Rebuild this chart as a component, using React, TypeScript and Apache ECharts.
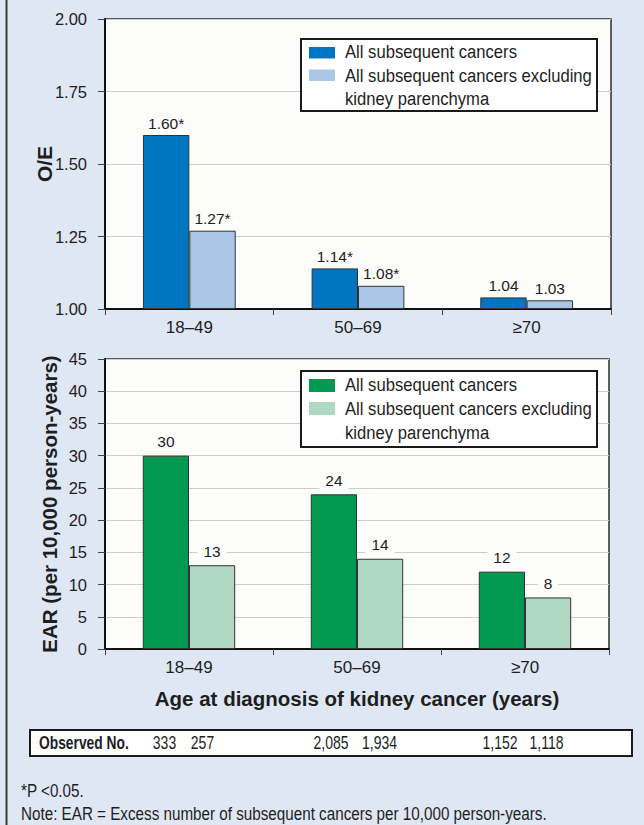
import React, { useEffect, useRef } from 'react';
import * as echarts from 'echarts';

// ---------- data ----------
const categories = ['18–49', '50–69', '≥70'];
const seriesNames = ['All subsequent cancers', 'All subsequent cancers excluding kidney parenchyma'];
const legendLines = ['All subsequent cancers', 'All subsequent cancers excluding', 'kidney parenchyma'];

const oeAll = [1.6, 1.14, 1.04];
const oeExcl = [1.27, 1.08, 1.03];
const oeAllSig = [true, true, false];
const oeExclSig = [true, true, false];

const earAll = [30, 24, 12];
const earExcl = [13, 14, 8];

const oeMin = 1;
const oeMax = 2;
const oeInterval = 0.25;
const earMin = 0;
const earMax = 45;
const earInterval = 5;

const oeAxisName = 'O/E';
const earAxisName = 'EAR (per 10,000 person-years)';
const xAxisName = 'Age at diagnosis of kidney cancer (years)';

const observedTitle = 'Observed No.';
const observedNo = ['333', '257', '2,085', '1,934', '1,152', '1,118'];
const footnotes = ['*P <0.05.', 'Note: EAR = Excess number of subsequent cancers per 10,000 person-years.'];

// ---------- layout / style ----------
const W = 644;
const H = 825;
const FONT = "'Liberation Sans', Arial, Helvetica, sans-serif";
const BOLD_FONT = "'Liberation Sans', Arial, Helvetica, sans-serif";
const BG = '#dfe7f4';
const PLOT_BG = '#fcfcfa';
const INK = '#1e1e1e';
const C_BLUE = '#0076c0';
const C_LBLUE = '#abc7e7';
const C_GREEN = '#00994f';
const C_LGREEN = '#aed8c1';
const observedX = [164.5, 202.5, 331, 379.5, 500, 546.5];

export default function App() {
  const ref = useRef<HTMLDivElement>(null);

  useEffect(() => {
    if (!ref.current) return;
    const chart = echarts.init(ref.current, undefined, { renderer: 'svg', width: W, height: H });

    const axisLine = { show: true, onZero: false, lineStyle: { color: '#111', width: 2 } };
    const yTick = { show: true, length: 7, lineStyle: { color: '#444', width: 1 } };
    const xTick = { show: true, length: 6, lineStyle: { color: '#444', width: 1 } };
    const splitLine = { show: true, lineStyle: { color: '#cdcdcd', width: 1 } };
    const nameStyle = { fontFamily: BOLD_FONT, fontWeight: 'bold' as const, fontSize: 20.5, color: INK };

    const barBorder = { borderColor: '#333', borderWidth: 1 };
    const topLabel = (sig: boolean[]) => ({
      show: true,
      position: 'top' as const,
      distance: 4,
      fontFamily: FONT,
      fontSize: 15.5,
      color: INK,
      formatter: (p: any) => Number(p.value).toFixed(2) + (sig[p.dataIndex] ? '*' : ''),
    });
    const bottomLabel = {
      show: true,
      position: 'top' as const,
      distance: 5,
      fontFamily: FONT,
      fontSize: 15.5,
      color: INK,
      backgroundColor: PLOT_BG,
      padding: [1, 6, 1, 6],
      formatter: (p: any) => String(p.value),
    };

    const legendBlock = (y0: number, c1: string, c2: string, boxH: number, lineYs: number[], markYs: number[], markH: number) => [
      {
        type: 'rect', z: 100,
        shape: { x: 301, y: y0, width: 296, height: boxH },
        style: { fill: '#ffffff', stroke: '#1a1a1a', lineWidth: 2 },
      },
      { type: 'rect', z: 101, shape: { x: 309, y: markYs[0], width: 26, height: markH }, style: { fill: c1 } },
      { type: 'rect', z: 101, shape: { x: 309, y: markYs[1], width: 26, height: markH }, style: { fill: c2 } },
      ...legendLines.map((t, i) => ({
        type: 'text', z: 101,
        x: 345, y: lineYs[i], scaleX: 0.9,
        style: { text: t, fontFamily: FONT, fontSize: 18.5, fill: INK, align: 'left', verticalAlign: 'middle' },
      })),
    ];

    const option: any = {
      animation: false,
      backgroundColor: BG,
      grid: [
        { left: 105, top: 19, width: 506, height: 290, show: true, backgroundColor: PLOT_BG, borderColor: '#2b2b2b', borderWidth: 1.5, containLabel: false },
        { left: 105, top: 359, width: 504, height: 290, show: true, backgroundColor: PLOT_BG, borderColor: '#2b2b2b', borderWidth: 1.5, containLabel: false },
      ],
      xAxis: [
        {
          type: 'category', gridIndex: 0, data: categories,
          axisLine, axisTick: xTick, splitLine: { show: false },
          axisLabel: { fontFamily: FONT, fontSize: 17, color: INK, margin: 10 },
        },
        {
          type: 'category', gridIndex: 1, data: categories,
          axisLine, axisTick: xTick, splitLine: { show: false },
          axisLabel: { fontFamily: FONT, fontSize: 17, color: INK, margin: 10 },
          name: xAxisName, nameLocation: 'middle', nameGap: 39, nameMoveOverlap: false, nameTextStyle: nameStyle,
        },
      ],
      yAxis: [
        {
          type: 'value', gridIndex: 0, min: oeMin, max: oeMax, interval: oeInterval, startValue: oeMin,
          axisLine, axisTick: yTick, splitLine,
          axisLabel: { fontFamily: FONT, fontSize: 16.5, color: INK, margin: 18, formatter: (v: number) => v.toFixed(2) },
          name: oeAxisName, nameLocation: 'middle', nameGap: 50, nameMoveOverlap: false,
          nameTextStyle: { ...nameStyle, fontSize: 21 },
        },
        {
          type: 'value', gridIndex: 1, min: earMin, max: earMax, interval: earInterval,
          axisLine, axisTick: yTick, splitLine,
          axisLabel: { fontFamily: FONT, fontSize: 16.5, color: INK, margin: 18 },
          name: earAxisName, nameLocation: 'middle', nameGap: 45, nameMoveOverlap: false, nameTextStyle: nameStyle,
        },
      ],
      series: [
        {
          type: 'bar', name: seriesNames[0], xAxisIndex: 0, yAxisIndex: 0, data: oeAll,
          barGap: '0%', barCategoryGap: '45%',
          itemStyle: { color: C_BLUE, ...barBorder }, label: topLabel(oeAllSig),
        },
        {
          type: 'bar', name: seriesNames[1], xAxisIndex: 0, yAxisIndex: 0, data: oeExcl,
          barGap: '0%', barCategoryGap: '45%',
          itemStyle: { color: C_LBLUE, ...barBorder }, label: topLabel(oeExclSig),
        },
        {
          type: 'bar', name: seriesNames[0], xAxisIndex: 1, yAxisIndex: 1, data: earAll,
          barGap: '0%', barCategoryGap: '45%',
          itemStyle: { color: C_GREEN, ...barBorder }, label: bottomLabel,
        },
        {
          type: 'bar', name: seriesNames[1], xAxisIndex: 1, yAxisIndex: 1, data: earExcl,
          barGap: '0%', barCategoryGap: '45%',
          itemStyle: { color: C_LGREEN, ...barBorder }, label: bottomLabel,
        },
      ],
      graphic: [
        { type: 'line', z: 100, shape: { x1: 6.5, y1: 0, x2: 6.5, y2: H }, style: { stroke: '#3a3a3a', lineWidth: 2 } },
        ...legendBlock(39, C_BLUE, C_LBLUE, 72, [52, 75.5, 99], [47, 69.5], 11.5),
        ...legendBlock(371, C_GREEN, C_LGREEN, 76, [385, 409, 432.5], [379, 402], 13),
        {
          type: 'rect', z: 100,
          shape: { x: 30, y: 730, width: 602, height: 26 },
          style: { fill: '#ffffff', stroke: '#1a1a1a', lineWidth: 2 },
        },
        {
          type: 'text', z: 101, x: 39, y: 743, scaleX: 0.79,
          style: { text: observedTitle, fontFamily: BOLD_FONT, fontWeight: 'bold', fontSize: 17.5, fill: INK, align: 'left', verticalAlign: 'middle' },
        },
        ...observedNo.map((t, i) => ({
          type: 'text', z: 101, x: observedX[i], y: 743, scaleX: 0.8,
          style: { text: t, fontFamily: FONT, fontSize: 17.5, fill: INK, align: 'center', verticalAlign: 'middle' },
        })),
        ...footnotes.map((t, i) => ({
          type: 'text', z: 101, x: 21, y: 791 + i * 23, scaleX: 0.87,
          style: { text: t, fontFamily: FONT, fontSize: 17.5, fill: INK, align: 'left', verticalAlign: 'middle' },
        })),
      ],
    };

    chart.setOption(option);
    return () => chart.dispose();
  }, []);

  return (
    <div
      ref={ref}
      style={{ position: 'absolute', left: 0, top: 0, width: W, height: H, background: BG }}
    />
  );
}
